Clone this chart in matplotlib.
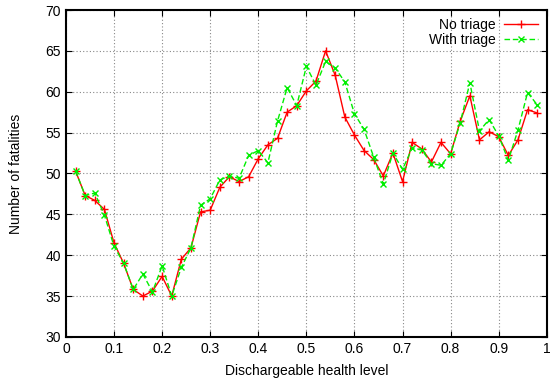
import numpy as np
import matplotlib
matplotlib.use("Agg")
import matplotlib.pyplot as plt

plt.rcParams['font.family'] = ['Liberation Sans', 'DejaVu Sans']

# --- DADOS ---
health = np.round(np.arange(1, 50) * 0.02, 2)

no_triage = [50.3, 47.3, 46.7, 45.6, 41.5, 39.0, 35.8, 35.0, 35.6, 37.4,
             35.0, 39.5, 40.9, 45.3, 45.5, 48.3, 49.6, 49.0, 49.6, 51.8,
             53.5, 54.3, 57.5, 58.3, 60.1, 61.3, 65.0, 62.0, 56.9, 54.7,
             52.8, 51.7, 49.7, 52.5, 49.0, 53.8, 53.0, 51.4, 53.8, 52.4,
             56.4, 59.5, 54.1, 55.1, 54.5, 52.2, 54.1, 57.8, 57.4]

with_triage = [50.3, 47.3, 47.6, 44.9, 41.1, 39.0, 35.8, 37.7, 35.5, 38.7,
               35.0, 38.5, 40.9, 46.1, 46.9, 49.2, 49.7, 49.4, 52.2, 52.8,
               51.3, 56.4, 60.5, 58.3, 63.1, 60.8, 63.7, 62.9, 61.2, 57.3,
               55.4, 52.0, 48.7, 52.5, 50.5, 53.1, 52.9, 51.2, 51.0, 52.4,
               56.2, 61.1, 55.2, 56.6, 54.6, 51.6, 55.3, 59.9, 58.4]

xticks = [0, 0.1, 0.2, 0.3, 0.4, 0.5, 0.6, 0.7, 0.8, 0.9, 1]
xticklabels = ['0', '0.1', '0.2', '0.3', '0.4', '0.5', '0.6', '0.7', '0.8', '0.9', '1']
yticks = [30, 35, 40, 45, 50, 55, 60, 65, 70]

# --- GRAFICO ---
fig = plt.figure(figsize=(5.54, 3.85), dpi=100)
ax = fig.add_axes([0.119, 0.125, 0.868, 0.849])

ax.plot(health, no_triage, color='#ff0000', linewidth=1, marker='+',
        markersize=6, markeredgewidth=1, label='No triage')
ax.plot(health, with_triage, color='#00ee00', linewidth=1, linestyle=(0, (4, 2)),
        marker='x', markersize=5, markeredgewidth=1, label='With triage')

ax.set_xlim(0, 1)
ax.set_ylim(30, 70)
ax.set_xticks(xticks)
ax.set_xticklabels(xticklabels)
ax.set_yticks(yticks)
ax.tick_params(direction='in', top=True, right=True, labelsize=10, length=4)
ax.grid(True, linestyle=(0, (1, 2)), color='#888888', linewidth=0.8)
for s in ax.spines.values():
    s.set_linewidth(1.5)

ax.set_xlabel('Dischargeable health level', fontsize=10, labelpad=6)
ax.set_ylabel('Number of fatalities', fontsize=10, labelpad=16)

ax.legend(loc='upper right', frameon=False, markerfirst=False, fontsize=10,
          handlelength=2.5, borderaxespad=0.2, labelspacing=0.05,
          handletextpad=0.6)

fig.savefig('out.png', dpi=100)
